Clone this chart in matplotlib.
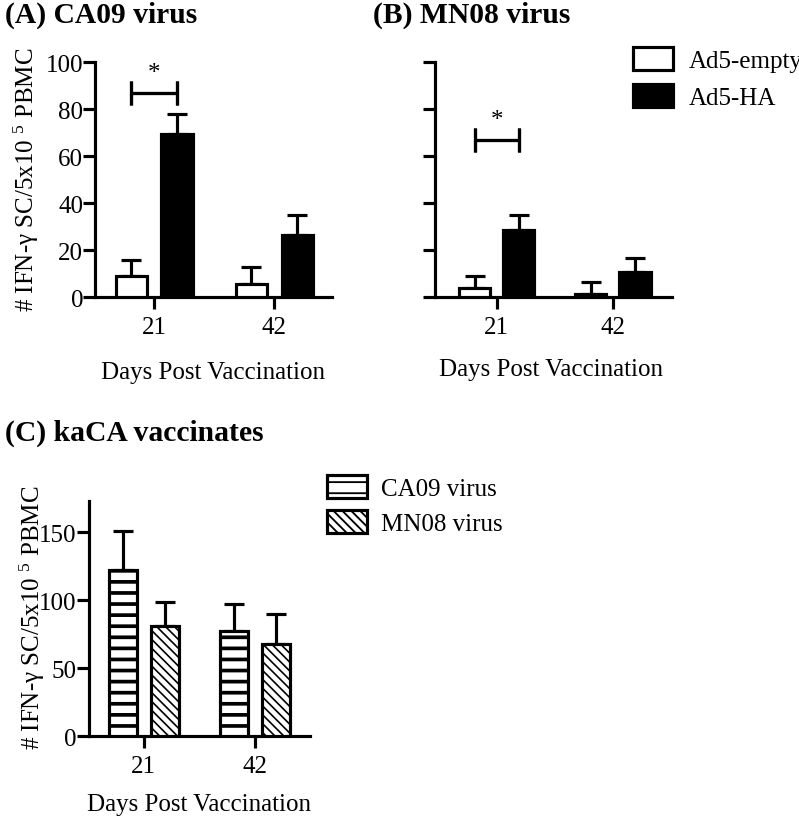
import numpy as np
import matplotlib
matplotlib.use('Agg')
import matplotlib.pyplot as plt

plt.rcParams['font.family'] = ['Liberation Serif', 'DejaVu Serif']
plt.rcParams['mathtext.fontset'] = 'custom'
plt.rcParams['mathtext.rm'] = 'Liberation Serif'
plt.rcParams['mathtext.default'] = 'regular'
plt.rcParams['hatch.color'] = 'black'

days = ['21', '42']

# (A) CA09 virus
a_empty = [9, 5.5]
a_empty_err = [7, 7.5]
a_ha = [69.5, 26.5]
a_ha_err = [8.5, 8.5]
a_sig = 87

# (B) MN08 virus
b_empty = [3.8, 1.5]
b_empty_err = [5, 5]
b_ha = [28.5, 10.5]
b_ha_err = [6.5, 6]
b_sig = 67

# (C) kaCA vaccinates
c_ca09 = [122, 77.5]
c_ca09_err = [29, 20]
c_mn08 = [81, 67.5]
c_mn08_err = [18, 22.5]

ylabel = '# IFN-γ SC/5x10 $^{5}$ PBMC'
xlabel = 'Days Post Vaccination'
FS = 13.5
LW = 1.7

fig = plt.figure(figsize=(6, 6.1425), dpi=133.333)
axA = fig.add_axes([0.119, 0.636, 0.296, 0.287])
axB = fig.add_axes([0.544, 0.636, 0.296, 0.287])
axC = fig.add_axes([0.111, 0.100, 0.2765, 0.287])

x = np.arange(len(days))
off = 0.19


def style(ax, ymax, yticks, ticklabels=True):
    for s in ['top', 'right']:
        ax.spines[s].set_visible(False)
    for s in ['left', 'bottom']:
        ax.spines[s].set_linewidth(LW)
    ax.set_ylim(0, ymax)
    ax.set_yticks(yticks)
    ax.set_xticks(x)
    ax.set_xticklabels(days)
    ax.tick_params(axis='both', width=LW, length=6.5, labelsize=FS)
    ax.tick_params(axis='x', pad=3.5)
    ax.tick_params(axis='y', pad=0)
    if not ticklabels:
        ax.set_yticklabels([])


def pair(ax, v1, e1, v2, e2, w, kw1, kw2):
    b1 = ax.bar(x - off, v1, w, linewidth=LW, edgecolor='black', zorder=3, **kw1)
    b2 = ax.bar(x + off, v2, w, linewidth=LW, edgecolor='black', zorder=3, **kw2)
    ax.errorbar(x - off, v1, yerr=[np.zeros(len(v1)), e1], fmt='none', ecolor='black',
                elinewidth=LW, capsize=5.5, capthick=LW, zorder=2)
    ax.errorbar(x + off, v2, yerr=[np.zeros(len(v2)), e2], fmt='none', ecolor='black',
                elinewidth=LW, capsize=5.5, capthick=LW, zorder=2)
    return b1, b2


def bracket(ax, y):
    # significance bar between the two bars at day 21
    ax.errorbar([x[0] - off], [y], xerr=[[0], [2 * off]], fmt='none', ecolor='black',
                elinewidth=LW, capsize=6.5, capthick=LW)
    ax.errorbar([x[0] + off], [y], xerr=[[2 * off], [0]], fmt='none', ecolor='black',
                elinewidth=LW, capsize=6.5, capthick=LW)
    ax.text(x[0], y + 3.5, '*', ha='center', va='bottom', fontsize=FS)


# panel A
bA1, bA2 = pair(axA, a_empty, a_empty_err, a_ha, a_ha_err, 0.26,
                dict(color='white'), dict(color='black'))
style(axA, 100, [0, 20, 40, 60, 80, 100])
axA.set_xlim(-0.49, 1.48)
bracket(axA, a_sig)

# panel B
bB1, bB2 = pair(axB, b_empty, b_empty_err, b_ha, b_ha_err, 0.27,
                dict(color='white'), dict(color='black'))
style(axB, 100, [0, 20, 40, 60, 80, 100], ticklabels=False)
axB.set_xlim(-0.53, 1.51)
bracket(axB, b_sig)

# panel C
with plt.rc_context({'hatch.linewidth': 2.0}):
    bc1 = axC.bar(x - off, c_ca09, 0.25, color='white', edgecolor='black', hatch='--',
                  linewidth=LW, zorder=3)
with plt.rc_context({'hatch.linewidth': 0.9}):
    bc2 = axC.bar(x + off, c_mn08, 0.25, color='white', edgecolor='black', hatch='\\\\\\\\\\',
                  linewidth=LW, zorder=3)
axC.errorbar(x - off, c_ca09, yerr=[np.zeros(2), c_ca09_err], fmt='none', ecolor='black',
             elinewidth=LW, capsize=5.5, capthick=LW, zorder=2)
axC.errorbar(x + off, c_mn08, yerr=[np.zeros(2), c_mn08_err], fmt='none', ecolor='black',
             elinewidth=LW, capsize=5.5, capthick=LW, zorder=2)
style(axC, 173, [0, 50, 100, 150])
axC.set_xlim(-0.495, 1.495)

# titles and labels
fig.text(0.006, 0.981, '(A) CA09 virus', fontsize=16, fontweight='bold', va='center')
fig.text(0.466, 0.981, '(B) MN08 virus', fontsize=16, fontweight='bold', va='center')
fig.text(0.006, 0.471, '(C) kaCA vaccinates', fontsize=16, fontweight='bold', va='center')
fig.text(0.033, 0.78, ylabel, rotation=90, fontsize=FS, ha='center', va='center')
fig.text(0.040, 0.245, ylabel, rotation=90, fontsize=FS, ha='center', va='center')
fig.text(0.266, 0.545, xlabel, fontsize=FS, ha='center', va='center')
fig.text(0.689, 0.548, xlabel, fontsize=FS, ha='center', va='center')
fig.text(0.249, 0.017, xlabel, fontsize=FS, ha='center', va='center')

fig.legend([bA1, bA2], ['Ad5-empty', 'Ad5-HA'], loc='upper left',
           bbox_to_anchor=(0.791, 0.942), frameon=False, fontsize=FS,
           handlelength=1.6, handleheight=1.05, handletextpad=0.65,
           labelspacing=0.5, borderpad=0, borderaxespad=0)
fig.legend([bc1, bc2], ['CA09 virus', 'MN08 virus'], loc='upper left',
           bbox_to_anchor=(0.409, 0.419), frameon=False, fontsize=FS,
           handlelength=1.6, handleheight=1.05, handletextpad=0.55,
           labelspacing=0.4, borderpad=0, borderaxespad=0)

fig.savefig('out.png', dpi=133.333)
